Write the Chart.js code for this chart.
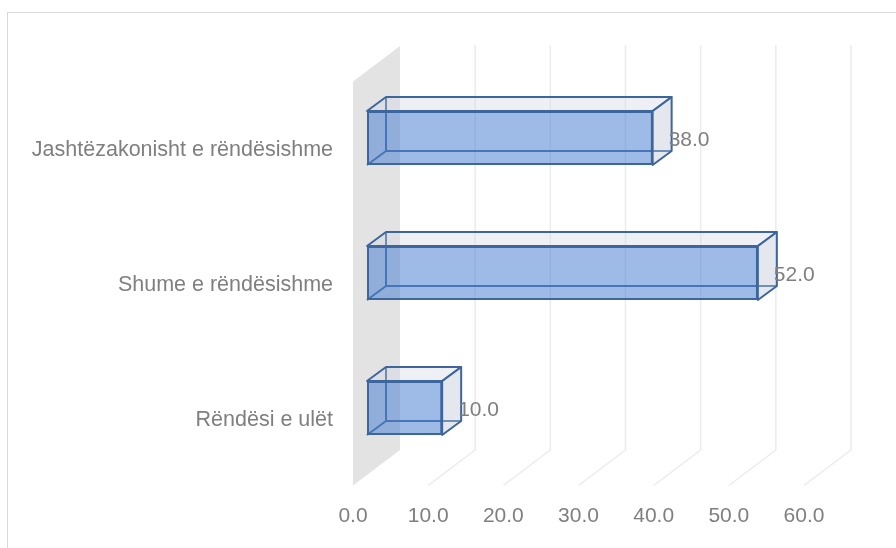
<!DOCTYPE html>
<html>
<head>
<meta charset="utf-8">
<script src="https://cdn.jsdelivr.net/npm/chart.js@4"></script>
<style>
  html, body { margin: 0; padding: 0; background: #fff; }
  #chart { display: block; }
</style>
</head>
<body>
<canvas id="chart" width="896" height="548"></canvas>
<script>
// Data
const categories = ["Jashtëzakonisht e rëndësishme", "Shume e rëndësishme", "Rëndësi e ulët"];
const values = [38, 52, 10];
const xTicks = [0, 10, 20, 30, 40, 50, 60];

const textColor = "#7f7f7f";
const fontFamily = "'Liberation Sans', Arial, sans-serif";
const edgeColor = "#3d669c";

// 3D offsets (pixels) relative to the front face of the bars
const barDepth = { dx: 19, dy: -14 };
const backPlane = { dx: 33, dy: -25.5 };
const fullDepth = { dx: 47, dy: -35.5 };

function barBox(bar) {
    const p = bar.getProps(["x", "y", "base", "height"], true);
    return {
        x0: Math.min(p.x, p.base),
        x1: Math.max(p.x, p.base),
        yt: p.y - p.height / 2,
        yb: p.y + p.height / 2,
        cy: p.y
    };
}

function poly(ctx, pts) {
    ctx.beginPath();
    ctx.moveTo(pts[0][0], pts[0][1]);
    for (let i = 1; i < pts.length; i++) ctx.lineTo(pts[i][0], pts[i][1]);
    ctx.closePath();
}

const threeD = {
    id: "threeD",
    beforeDraw(chart) {
        const ctx = chart.ctx;
        ctx.save();
        ctx.strokeStyle = "#d9d9d9";
        ctx.lineWidth = 1;
        ctx.strokeRect(7.5, 12.5, 1000, 1000);
        ctx.restore();
    },
    beforeDatasetsDraw(chart) {
        const ctx = chart.ctx;
        const ca = chart.chartArea;
        const xs = chart.scales.x;
        const backTop = ca.top + backPlane.dy;
        const backBottom = ca.bottom + backPlane.dy;
        ctx.save();

        // side wall at zero
        const wb = xs.getPixelForValue(0) + backPlane.dx;
        const wf = wb - fullDepth.dx;
        ctx.fillStyle = "#e3e3e3";
        poly(ctx, [[wf, backBottom - fullDepth.dy], [wf, backTop + 1 - fullDepth.dy],
                   [wb, backTop + 1], [wb, backBottom]]);
        ctx.fill();

        // gridlines: back wall + floor diagonal
        ctx.strokeStyle = "#ebebeb";
        ctx.lineWidth = 1.5;
        xTicks.forEach(v => {
            if (v === 0) return;
            const bx = xs.getPixelForValue(v) + backPlane.dx;
            ctx.beginPath();
            ctx.moveTo(bx, backTop);
            ctx.lineTo(bx, backBottom);
            ctx.lineTo(bx - fullDepth.dx, backBottom - fullDepth.dy);
            ctx.stroke();
        });

        // hidden edges of each bar
        ctx.strokeStyle = edgeColor;
        ctx.lineWidth = 2;
        chart.getDatasetMeta(0).data.forEach(bar => {
            const b = barBox(bar);
            ctx.beginPath();
            ctx.moveTo(b.x0 + barDepth.dx, b.yt + barDepth.dy);
            ctx.lineTo(b.x0 + barDepth.dx, b.yb + barDepth.dy);
            ctx.lineTo(b.x1 + barDepth.dx, b.yb + barDepth.dy);
            ctx.moveTo(b.x0, b.yb);
            ctx.lineTo(b.x0 + barDepth.dx, b.yb + barDepth.dy);
            ctx.stroke();
        });
        ctx.restore();
    },
    afterDatasetsDraw(chart) {
        const ctx = chart.ctx;
        ctx.save();
        ctx.strokeStyle = edgeColor;
        ctx.lineWidth = 2;
        ctx.lineJoin = "round";
        chart.getDatasetMeta(0).data.forEach((bar, i) => {
            const b = barBox(bar);
            // top face
            poly(ctx, [[b.x0, b.yt], [b.x1, b.yt],
                       [b.x1 + barDepth.dx, b.yt + barDepth.dy], [b.x0 + barDepth.dx, b.yt + barDepth.dy]]);
            ctx.fillStyle = "rgba(205,212,225,0.35)";
            ctx.fill();
            ctx.stroke();
            // right face
            poly(ctx, [[b.x1, b.yt], [b.x1 + barDepth.dx, b.yt + barDepth.dy],
                       [b.x1 + barDepth.dx, b.yb + barDepth.dy], [b.x1, b.yb]]);
            ctx.fillStyle = "rgba(190,200,215,0.42)";
            ctx.fill();
            ctx.stroke();

            // value label
            ctx.fillStyle = textColor;
            ctx.font = "21px " + fontFamily;
            ctx.textAlign = "left";
            ctx.textBaseline = "middle";
            ctx.fillText(values[i].toFixed(1), b.x1 + 16, b.cy + 2);
        });
        ctx.restore();
    }
};

new Chart(document.getElementById("chart"), {
    type: "bar",
    data: {
        labels: categories,
        datasets: [{
            data: values,
            backgroundColor: "rgba(79,129,209,0.55)",
            borderColor: edgeColor,
            borderWidth: 2,
            borderSkipped: false,
            barPercentage: 0.4,
            categoryPercentage: 1
        }]
    },
    options: {
        indexAxis: "y",
        responsive: false,
        animation: false,
        devicePixelRatio: 1,
        layout: { padding: { top: 70.5, right: 78, left: 0, bottom: 0 } },
        plugins: {
            legend: { display: false },
            tooltip: { enabled: false }
        },
        scales: {
            x: {
                min: 0,
                max: 60,
                grid: { display: false, drawTicks: false },
                border: { display: false },
                ticks: {
                    stepSize: 10,
                    color: textColor,
                    font: { family: fontFamily, size: 21 },
                    padding: 28.5,
                    labelOffset: -14,
                    callback: v => Number(v).toFixed(1)
                },
                afterFit(scale) { scale.height = 72.5; }
            },
            y: {
                grid: { display: false, drawTicks: false },
                border: { display: false },
                ticks: {
                    color: textColor,
                    font: { family: fontFamily, size: 21.5 },
                    padding: 34,
                    labelOffset: 12
                },
                afterFit(scale) { scale.width = 367; }
            }
        }
    },
    plugins: [threeD]
});
</script>
</body>
</html>
